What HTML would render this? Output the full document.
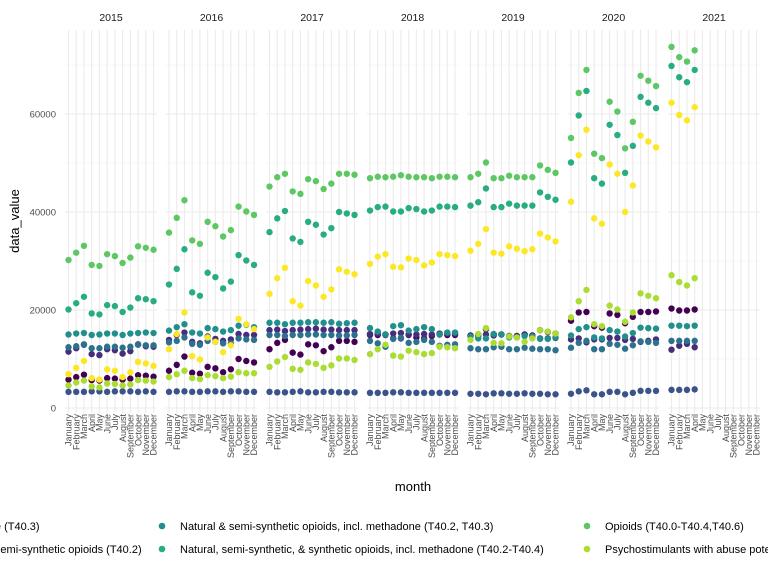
<!DOCTYPE html>
<html><head><meta charset="utf-8"><style>
body{margin:0;background:#fff;}
svg{display:block;font-family:"Liberation Sans",sans-serif;}
</style></head><body>
<svg id="chart" width="768" height="576"></svg>
<script>
const years=["2015","2016","2017","2018","2019","2020","2021"];
const months=["January","February","March","April","May","June","July","August","September","October","November","December"];
const seriesNames=["Cocaine (T40.5)","Heroin (T40.1)","Methadone (T40.3)","Natural & semi-synthetic opioids (T40.2)","Natural & semi-synthetic opioids, incl. methadone (T40.2, T40.3)","Natural, semi-synthetic, & synthetic opioids, incl. methadone (T40.2-T40.4)","Opioids (T40.0-T40.4,T40.6)","Psychostimulants with abuse potential (T43.6)","Synthetic opioids, excl. methadone (T40.4)"];
const seriesColors=["#440154","#472D7B","#3B528B","#2C728E","#21908C","#27AD81","#5DC863","#AADC32","#FDE725"];
const yTicks=[0,20000,40000,60000];
const yMinor=[10000,30000,50000,70000];
// values per series: year -> 12 months
const cocaine=[[5800,6300,6800,5700,5600,6100,6000,5800,6000,6700,6600,6400],[7600,8800,10500,7200,7000,8400,8100,7300,7900,10000,9600,9300],[12000,13300,13900,11300,10900,13000,12800,11600,12400,13700,13700,13500],[14900,14900,14900,14200,14200,14900,14400,14200,14700,15000,14900,14900],[14800,15000,16100,15000,15000,14600,14700,15000,14800,15900,15500,15200],[17800,19500,19600,16700,16400,19300,19000,17300,18600,19600,19600,19700],[20300,19900,19900,20100]];
const heroin=[[11500,12200,12900,11000,10800,12000,11800,11100,11600,13000,12600,12500],[13900,14900,15400,13500,13200,14600,14100,13700,14000,15100,14900,14900],[15900,16000,15700,15900,16000,16100,16200,16000,16000,15900,15900,15900],[15100,15200,15000,15200,15300,15000,15000,15100,15000,15200,15200,15200],[14700,14700,15000,14800,15000,14700,14600,15000,14700,14200,14200,14300],[14000,14200,13400,14000,14000,14300,14300,13900,14100,13500,13700,14000],[11900,12700,13100,12400]];
const methadone=[[3300,3300,3300,3400,3400,3300,3400,3400,3400,3300,3400,3300],[3300,3400,3400,3300,3300,3400,3400,3300,3400,3400,3300,3300],[3300,3200,3200,3300,3400,3200,3200,3300,3300,3200,3200,3200],[3100,3100,3100,3200,3200,3100,3100,3100,3100,3100,3100,3100],[2900,2900,2800,3000,3000,2900,2900,3000,2900,2900,2800,2800],[2900,3400,3600,2800,2800,3300,3300,2800,3100,3500,3500,3500],[3700,3700,3700,3800]];
const natural=[[12400,12600,13000,12200,12200,12500,12500,12300,12500,12900,12800,12800],[13400,13700,14400,13100,12900,13700,13500,13200,13200,14200,14000,13900],[14900,14900,14700,14900,14900,15000,15000,14900,14900,14800,14800,14900],[13700,13200,12500,14100,14300,13300,13500,13900,13500,12700,12900,13000],[12200,12000,12000,12400,12500,12000,12000,12300,12100,12000,12000,11800],[12300,13300,13700,12000,12000,13100,12900,12100,12800,13600,13500,13300],[13700,13700,13700,13700]];
const naturalMeth=[[15000,15200,15300,14900,15000,15200,15200,14900,15200,15300,15400,15300],[15800,16500,17100,15400,15200,16300,16100,15600,15900,16800,17000,16500],[17400,17400,17100,17400,17400,17500,17500,17400,17500,17200,17300,17400],[16300,15600,15000,16700,16900,15800,16100,16500,16100,15000,15400,15400],[14600,14200,14200,15100,15000,14400,14400,14700,14600,14100,14100,14400],[14800,16100,16500,14400,14200,15900,15600,14600,15300,16400,16300,16200],[16800,16800,16700,16800]];
const naturalSynth=[[20100,21400,22700,19300,19100,21000,20800,19600,20500,22400,22200,21800],[25200,28400,32400,23600,22900,27600,26700,24400,25800,31200,30100,29200],[35900,38700,40200,34600,33900,38000,37400,35400,36700,40000,39700,39400],[40300,41000,41100,40100,40100,40800,40600,40100,40300,41100,41100,41000],[41300,42000,44800,41000,41000,41700,41300,41300,41300,44000,43100,42500],[50100,59700,64700,46900,45800,57800,55700,48000,53500,63500,62300,61200],[69800,67500,66500,69000]];
const opioids=[[30200,31700,33100,29200,29000,31400,31000,29600,30700,33000,32700,32300],[35800,38800,42400,34200,33500,38000,37100,35000,36300,41100,40100,39400],[45200,47100,47800,44200,43700,46700,46300,44700,45800,47800,47800,47600],[46900,47200,47100,47200,47500,47200,47100,47100,46900,47200,47200,47100],[47100,47800,50100,46900,46900,47400,47100,47100,47100,49500,48600,48000],[55100,64300,69000,51900,51000,62500,60500,53000,58400,67800,66800,65700],[73700,71600,70700,73000]];
const psycho=[[4600,5200,5600,4400,4200,5000,4900,4600,4800,5700,5600,5400],[6300,6900,7600,6100,5900,6700,6500,6100,6400,7300,7100,7100],[8400,9500,10400,8000,7800,9300,9000,8200,8700,10100,10100,9800],[11000,12000,12900,10700,10500,11700,11400,11000,11200,12500,12400,12200],[13900,15100,16300,13300,13200,14600,14400,13500,14200,15900,15600,15200],[18500,21800,24100,17100,16700,20900,20100,17600,19500,23400,22900,22400],[27100,25700,25000,26500]];
const synthetic=[[6900,8200,9600,6100,5800,7900,7600,6300,7300,9400,9100,8600],[12000,15100,19500,10600,9900,14400,13500,11400,12800,18200,17100,16100],[23300,26500,28600,21800,20900,25900,25000,22700,24200,28300,27800,27300],[29400,30900,31400,28800,28700,30500,30200,29100,29700,31400,31200,31000],[32100,33500,36500,31700,31500,33000,32500,32000,32400,35600,34800,34000],[42100,51600,56800,38700,37600,49700,47800,40000,45400,55600,54400,53200],[62300,59800,58700,61400]];
const seriesData=[cocaine,heroin,methadone,natural,naturalMeth,naturalSynth,opioids,psycho,synthetic];

const NS="http://www.w3.org/2000/svg";
const svg=document.getElementById("chart");
function el(tag,attrs,parent){const e=document.createElementNS(NS,tag);for(const k in attrs)e.setAttribute(k,attrs[k]);(parent||svg).appendChild(e);return e;}
const Y0=408,YK=0.0049,PT=30,PB=413;
function yS(v){return Y0-v*YK;}
function panelLeft(p){return 65+p*100.5;}
function xS(p,m){return panelLeft(p)+3.5+m*7.73;}

// gridlines & facets
years.forEach((yr,p)=>{
  const g=el("g",{});
  
  
  yMinor.forEach(v=>{el("line",{x1:panelLeft(p),x2:panelLeft(p)+92,y1:yS(v),y2:yS(v),stroke:"#F0F0F0","stroke-width":0.6},g);});
  yTicks.forEach(v=>{el("line",{x1:panelLeft(p),x2:panelLeft(p)+92,y1:yS(v),y2:yS(v),stroke:"#EBEBEB","stroke-width":1.1},g);});
  months.forEach((m,i)=>{el("line",{x1:xS(p,i),x2:xS(p,i),y1:PT,y2:PB,stroke:"#EBEBEB","stroke-width":1.1},g);});
  const st=el("text",{x:panelLeft(p)+46,y:21,"text-anchor":"middle","font-size":"10.5",fill:"#1A1A1A"},g);
  st.textContent=yr;
  
  
  months.forEach((m,i)=>{
    const t=el("text",{x:0,y:0,"text-anchor":"end","font-size":"9",fill:"#4D4D4D",transform:"translate("+(xS(p,i)+3.2)+","+(PB+1)+") rotate(-90)"},g);
    t.textContent=m;
    
    
  });
});
// y ticks
yTicks.forEach(v=>{
  const t=el("text",{x:56,y:yS(v)+3.5,"text-anchor":"end","font-size":"9.5",fill:"#4D4D4D"});
  t.textContent=String(v);
  
  
});
// points
seriesData.forEach((ser,s)=>{
  const g=el("g",{fill:seriesColors[s]});
  
  
  ser.forEach((vals,p)=>{vals.forEach((v,m)=>{
    const c=el("circle",{cx:xS(p,m),cy:yS(v),r:3.2},g);
    
    
  });});
});
// axis titles
let t=el("text",{x:413,y:491,"text-anchor":"middle","font-size":"13",fill:"#000"});
t.textContent="month";


t=el("text",{x:0,y:0,"text-anchor":"middle","font-size":"13",fill:"#000",transform:"translate(19,221) rotate(-90)"});
t.textContent="data_value";


// legend
const legCols=[-72,162,587,860];
const legRows=[526,549];
seriesNames.forEach((n,i)=>{
  const col=Math.floor(i/2)-1, row=i%2;
  if(col<0)return;
  const cx=col===0?-72:legCols[col];
  const g=el("g",{});
  
  
  el("circle",{cx:cx,cy:legRows[row],r:3.3,fill:seriesColors[i]},g);
  const tx=el("text",{x:cx+18,y:legRows[row]+4,"font-size":"11",fill:"#000"},g);
  tx.textContent=n;
});
</script>
</body></html>
